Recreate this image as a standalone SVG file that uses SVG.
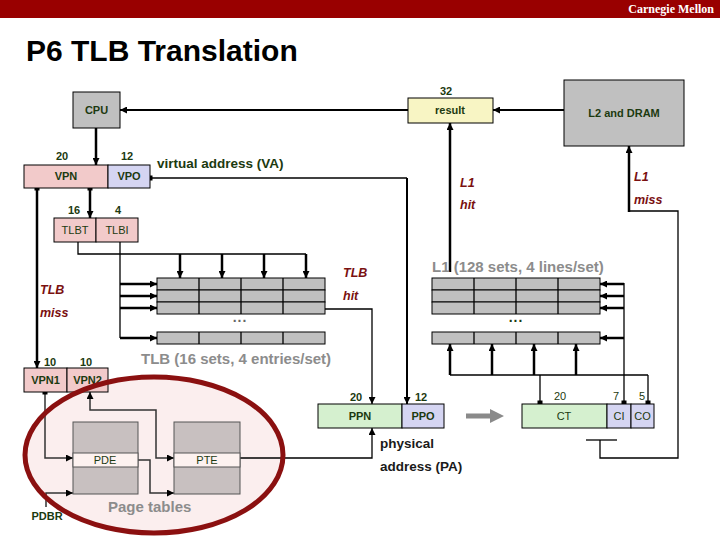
<svg xmlns="http://www.w3.org/2000/svg" width="720" height="540" viewBox="0 0 720 540">
<defs>
<marker id="ah" viewBox="0 0 8 8" refX="8" refY="4" markerWidth="7" markerHeight="7" markerUnits="userSpaceOnUse" orient="auto-start-reverse"><path d="M0,0 L8,4 L0,8 z" fill="#000"/></marker>
</defs>
<style>
.box{stroke:#000;stroke-width:1}
.pink{fill:#f2caca}
.lav{fill:#d5d5f2}
.grn{fill:#d5f0cf}
.gray{fill:#c0c0c0}
.yel{fill:#f8f5c4}
.cell{fill:#c0c0c0;stroke:#000;stroke-width:1}
.lbl{font-family:"Liberation Sans",Arial,sans-serif;font-weight:bold;font-size:11px;fill:#1c3a10;text-anchor:middle}
.reg{font-weight:normal}
.w{fill:none;stroke:#000;stroke-width:1.3}
.m{fill:none;stroke:#000;stroke-width:2}
.t{fill:none;stroke:#000;stroke-width:2.5}
.pt{fill:none;stroke:#333;stroke-width:1.5}
.it{font-family:"Liberation Sans",Arial,sans-serif;font-weight:bold;font-style:italic;font-size:12.5px;fill:#7a1010}
.gt{font-family:"Liberation Sans",Arial,sans-serif;font-weight:bold;font-size:15px;fill:#8c8c8c}
.bt{font-family:"Liberation Sans",Arial,sans-serif;font-weight:bold;font-size:13.5px}
.dot{fill:#000}
</style>
<rect x="0" y="0" width="720" height="18" fill="#990000"/>
<text x="714" y="13" font-family="Liberation Serif,serif" font-weight="bold" font-size="12" fill="#fff" text-anchor="end">Carnegie Mellon</text>
<text x="26" y="61" font-family="Liberation Sans,Arial,sans-serif" font-weight="bold" font-size="30" fill="#000">P6 TLB Translation</text>

<ellipse id="pt-bg" cx="154" cy="455" rx="129" ry="78" fill="#fbeeee"/>

<g id="connectors">
<path class="t" d="M96,128 V165" marker-end="url(#ah)"/>
<path class="m" d="M408,110 H120" marker-end="url(#ah)"/>
<path class="m" d="M564,110 H493" marker-end="url(#ah)"/>
<path class="t" d="M450,272 V123" marker-end="url(#ah)"/>
<path class="w" d="M600,440 V458 H678 V211 H629"/>
<path class="w" d="M586,440 H617"/>
<path class="t" d="M629,212 V146" marker-end="url(#ah)"/>
<path class="t" d="M37,188 V368" marker-end="url(#ah)"/>
<path class="t" d="M90,188 V218" marker-end="url(#ah)"/>
<path class="w" d="M78,242 V254 H306"/>
<path class="t" d="M180,254 V278" marker-end="url(#ah)"/>
<path class="t" d="M222,254 V278" marker-end="url(#ah)"/>
<path class="t" d="M264,254 V278" marker-end="url(#ah)"/>
<path class="t" d="M306,254 V278" marker-end="url(#ah)"/>
<path class="w" d="M120,242 V338"/>
<path class="t" d="M120,284 H157" marker-end="url(#ah)"/>
<path class="t" d="M120,296 H157" marker-end="url(#ah)"/>
<path class="t" d="M120,308 H157" marker-end="url(#ah)"/>
<path class="t" d="M120,338 H157" marker-end="url(#ah)"/>
<path class="w" d="M150,178 H407"/>
<path class="m" d="M407,178 V404" marker-end="url(#ah)"/>
<path class="w" d="M325,309 H372 V404" marker-end="url(#ah)"/>
<path class="w" d="M624,283 V403"/>
<path class="t" d="M624,284 H600" marker-end="url(#ah)"/>
<path class="t" d="M624,296 H600" marker-end="url(#ah)"/>
<path class="t" d="M624,308 H600" marker-end="url(#ah)"/>
<path class="t" d="M624,338 H600" marker-end="url(#ah)"/>
<path class="w" d="M450,375 H648"/>
<path class="t" d="M450,375 V344" marker-end="url(#ah)"/>
<path class="t" d="M492,375 V344" marker-end="url(#ah)"/>
<path class="t" d="M534,375 V344" marker-end="url(#ah)"/>
<path class="t" d="M576,375 V344" marker-end="url(#ah)"/>
<path class="w" d="M540,375 V403"/>
<path class="w" d="M648,375 V403"/>
<path d="M466,413.5 H490 V409 L504,416 L490,423 V418.5 H466 z" fill="#8a8a8a"/>
<path class="w" d="M240,458 H372 V428" marker-end="url(#ah)"/>
<path class="pt" d="M45,392 V458 H73" marker-end="url(#ah)"/>
<path class="pt" d="M90,392 V410 H156 V458 H174" marker-start="url(#ah)" marker-end="url(#ah)"/>
<path class="pt" d="M138,460 H150 V493 H174" marker-end="url(#ah)"/>
<path class="pt" d="M46,507 V493 H73" marker-end="url(#ah)"/>
<rect class="dot" x="34.5" y="185.5" width="5" height="5"/>
<rect class="dot" x="87.5" y="185.5" width="5" height="5"/>
<rect class="dot" x="147.5" y="175.5" width="5" height="5"/>
<rect class="dot" x="42.5" y="389.5" width="5" height="5"/>
<rect class="dot" x="537.5" y="400.5" width="5" height="5"/>
<rect class="dot" x="621.5" y="400.5" width="5" height="5"/>
<rect class="dot" x="645.5" y="400.5" width="5" height="5"/>
</g>

<g id="cpu">
<rect class="box gray" x="73" y="92" width="47" height="36"/>
<text class="lbl" x="96.5" y="114">CPU</text>
</g>
<g id="result">
<rect class="box yel" x="408" y="98" width="85" height="25"/>
<text class="lbl" x="446" y="95">32</text>
<text class="lbl" x="450" y="114" font-size="12">result</text>
</g>
<g id="l2dram">
<rect class="box gray" x="564" y="80" width="120" height="66"/>
<text class="lbl" x="624" y="117" font-size="12">L2 and DRAM</text>
</g>
<g id="va">
<rect class="box pink" x="24" y="165" width="84" height="23"/>
<rect class="box lav" x="108" y="165" width="42" height="23"/>
<text class="lbl" x="62" y="160">20</text>
<text class="lbl" x="127" y="160">12</text>
<text class="lbl" x="66" y="180">VPN</text>
<text class="lbl" x="129" y="180">VPO</text>
<text class="bt" x="157" y="168" fill="#1c3a10">virtual address (VA)</text>
</g>
<g id="tlbindex">
<rect class="box pink" x="54" y="218" width="42" height="24"/>
<rect class="box pink" x="96" y="218" width="42" height="24"/>
<text class="lbl" x="74" y="214">16</text>
<text class="lbl" x="118" y="214">4</text>
<text class="lbl reg" x="75" y="234">TLBT</text>
<text class="lbl reg" x="117" y="234">TLBI</text>
</g>
<g id="tlb">
<rect class="cell" x="157" y="278" width="168" height="12"/>
<rect class="cell" x="157" y="290" width="168" height="12"/>
<rect class="cell" x="157" y="302" width="168" height="12"/>
<rect class="cell" x="157" y="332" width="168" height="12"/>
<path class="w" stroke-width="1" d="M199,278 V314 M241,278 V314 M283,278 V314 M199,332 V344 M241,332 V344 M283,332 V344"/>
<text x="240" y="322" font-family="Liberation Sans,sans-serif" font-weight="bold" font-size="14" fill="#666" text-anchor="middle" letter-spacing="1">...</text>
<text class="gt" x="141" y="364">TLB (16 sets, 4 entries/set)</text>
<text class="it" x="343" y="277">TLB</text>
<text class="it" x="343" y="300">hit</text>
<text class="it" x="40" y="294">TLB</text>
<text class="it" x="40" y="317">miss</text>
</g>
<g id="l1">
<rect class="cell" x="432" y="278" width="168" height="12"/>
<rect class="cell" x="432" y="290" width="168" height="12"/>
<rect class="cell" x="432" y="302" width="168" height="12"/>
<rect class="cell" x="432" y="332" width="168" height="12"/>
<path class="w" stroke-width="1" d="M474,278 V314 M516,278 V314 M558,278 V314 M474,332 V344 M516,332 V344 M558,332 V344"/>
<text x="516" y="322" font-family="Liberation Sans,sans-serif" font-weight="bold" font-size="14" fill="#1c3a10" text-anchor="middle" letter-spacing="1">...</text>
<text class="gt" x="432" y="272">L1 (128 sets, 4 lines/set)</text>
<text class="it" x="460" y="187">L1</text>
<text class="it" x="460" y="209">hit</text>
<text class="it" x="634" y="181">L1</text>
<text class="it" x="634" y="204">miss</text>
</g>
<g id="pa">
<rect class="box grn" x="318" y="404" width="84" height="24"/>
<rect class="box lav" x="402" y="404" width="42" height="24"/>
<text class="lbl" x="356" y="401">20</text>
<text class="lbl" x="421" y="401">12</text>
<text class="lbl" x="360" y="420">PPN</text>
<text class="lbl" x="423" y="420">PPO</text>
<text class="bt" x="380" y="448" fill="#1a1a1a">physical</text>
<text class="bt" x="380" y="471" fill="#1a1a1a">address (PA)</text>
</g>
<g id="cacheaddr">
<rect class="box grn" x="522" y="404" width="85" height="24"/>
<rect class="box lav" x="607" y="404" width="24" height="24"/>
<rect class="box lav" x="631" y="404" width="23" height="24"/>
<text class="lbl reg" x="560" y="400">20</text>
<text class="lbl reg" x="616" y="400">7</text>
<text class="lbl reg" x="642" y="400">5</text>
<text class="lbl reg" x="564" y="420">CT</text>
<text class="lbl reg" x="619" y="420">CI</text>
<text class="lbl reg" x="642.5" y="420">CO</text>
</g>
<g id="vpn12">
<rect class="box pink" x="24" y="368" width="43" height="24"/>
<rect class="box pink" x="67" y="368" width="41" height="24"/>
<text class="lbl" x="50" y="366">10</text>
<text class="lbl" x="86" y="366">10</text>
<text class="lbl" x="45.5" y="384">VPN1</text>
<text class="lbl" x="87.5" y="384">VPN2</text>
</g>
<g id="pagetables">
<rect x="73" y="422" width="65" height="72" fill="#c8c0c0" stroke="#555"/>
<rect x="73" y="453" width="65" height="14" fill="#fdf2f0" stroke="#555"/>
<rect x="174" y="422" width="66" height="72" fill="#c8c0c0" stroke="#555"/>
<rect x="174" y="453" width="66" height="14" fill="#fdf2f0" stroke="#555"/>
<text class="lbl reg" x="105" y="464">PDE</text>
<text class="lbl reg" x="207" y="464">PTE</text>
<text class="lbl" x="47" y="520">PDBR</text>
<text class="gt" x="108" y="512" fill="#a0a0a0">Page tables</text>
<ellipse cx="154" cy="455" rx="129" ry="78" fill="none" stroke="#8b1010" stroke-width="5"/>
</g>
</svg>
